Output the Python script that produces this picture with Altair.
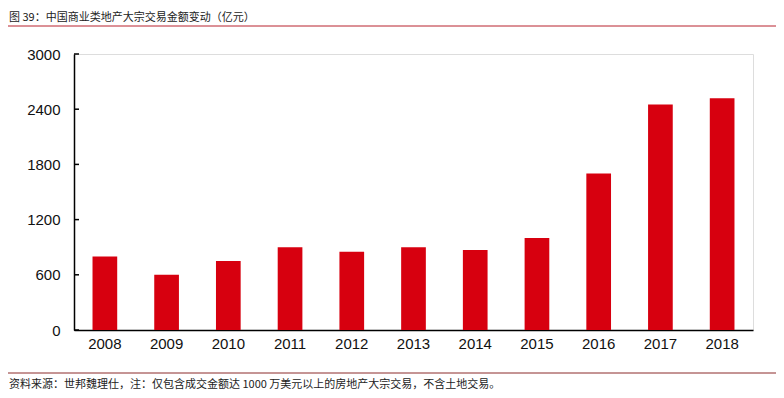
import altair as alt
import pandas as pd

years = ["2008", "2009", "2010", "2011", "2012", "2013", "2014", "2015", "2016", "2017", "2018"]
values = [800, 600, 750, 900, 850, 900, 870, 1000, 1700, 2450, 2520]
tick_values = [0, 600, 1200, 1800, 2400, 3000]
title_text = "图 39：中国商业类地产大宗交易金额变动（亿元）"
footer_text = "资料来源：世邦魏理仕，注：仅包含成交金额达 1000 万美元以上的房地产大宗交易，不含土地交易。"

df = pd.DataFrame({"year": years, "value": values})
ticks_df = pd.DataFrame({"value": tick_values})

yscale = alt.Scale(domain=[0, 3000], nice=False)
yaxis = alt.Axis(values=tick_values, format="d", ticks=False, labelPadding=14, labelFontSize=15,
                 labelFont="Liberation Sans", labelColor="#111", domainColor="#000",
                 domainWidth=1.5, grid=False)
BAR = "#D7000F"
FONT = "Liberation Sans"
CJK = "Noto Sans CJK SC"

bars = alt.Chart(df).mark_bar(color=BAR).encode(
    x=alt.X("year:N", sort=years, title=None,
            scale=alt.Scale(paddingInner=0.6, paddingOuter=0.3),
            axis=alt.Axis(labelAngle=0, ticks=False, labelPadding=6, labelFontSize=15,
                          labelFont=FONT, labelColor="#111", domainColor="#000", domainWidth=1.5)),
    y=alt.Y("value:Q", scale=yscale, title=None, axis=yaxis),
)

inner_ticks = alt.Chart(ticks_df).mark_rule(color="#000", strokeWidth=1.5).encode(
    y=alt.Y("value:Q", scale=yscale, title=None, axis=yaxis),
    x=alt.value(0),
    x2=alt.value(5),
)

title_mark = alt.Chart(pd.DataFrame({"t": [title_text]})).mark_text(
    align="left", baseline="middle", font=CJK, fontSize=11, color="#222"
).encode(text="t:N", x=alt.value(-65), y=alt.value(-36))

title_line = alt.Chart(pd.DataFrame({"t": [1]})).mark_rule(color="#B8232F", strokeWidth=1).encode(
    x=alt.value(-66), x2=alt.value(702), y=alt.value(-28)
)

footer_line = alt.Chart(pd.DataFrame({"t": [1]})).mark_rule(color="#8B2A2A", strokeWidth=1).encode(
    x=alt.value(-66), x2=alt.value(702), y=alt.value(319)
)

footer_mark = alt.Chart(pd.DataFrame({"t": [footer_text]})).mark_text(
    align="left", baseline="middle", font=CJK, fontSize=11, color="#222"
).encode(text="t:N", x=alt.value(-65), y=alt.value(331))

chart = alt.layer(bars, inner_ticks, title_line, title_mark, footer_line, footer_mark).resolve_scale(
    y="shared"
).properties(
    width=679, height=276,
    autosize=alt.AutoSizeParams(type="none"),
    padding={"left": 66, "top": 46, "right": 23, "bottom": 60},
).configure_view(stroke=None).configure(background="white")

chart.save("out.html", embed_options={"renderer": "svg", "actions": False})
